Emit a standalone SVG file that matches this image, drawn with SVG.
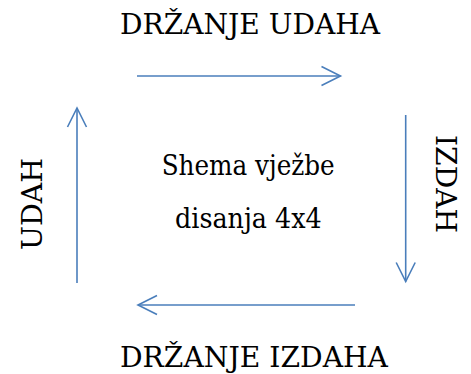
<svg xmlns="http://www.w3.org/2000/svg" width="471" height="374" viewBox="0 0 471 374">
<style>
.t{font-family:"DejaVu Serif",serif;font-size:28px;fill:#000}
.c{stroke:#4a7ebb;stroke-width:1.6;fill:none}
</style>
<defs>
<marker id="ah" markerUnits="userSpaceOnUse" markerWidth="24" markerHeight="24" viewBox="-21 -12 24 24" refX="0" refY="0" orient="auto" overflow="visible">
<path d="M-19,-9.5 L0,0 L-19,9.5" fill="none" stroke="#4a7ebb" stroke-width="1.6"/>
</marker>
</defs>
<g id="top-label"><text class="t" x="120" y="34.3" textLength="260" lengthAdjust="spacingAndGlyphs">DRŽANJE UDAHA</text></g>
<g id="right-label"><text class="t" transform="translate(436,135) rotate(90)" x="0" y="0" textLength="98" lengthAdjust="spacingAndGlyphs">IZDAH</text></g>
<g id="bottom-label"><text class="t" x="120" y="366.7" textLength="268" lengthAdjust="spacingAndGlyphs">DRŽANJE IZDAHA</text></g>
<g id="left-label"><text class="t" transform="translate(41.5,250) rotate(-90)" x="0" y="0" textLength="92" lengthAdjust="spacingAndGlyphs">UDAH</text></g>
<g id="center"><text class="t" x="161.7" y="175" textLength="173" lengthAdjust="spacingAndGlyphs">Shema vježbe</text><text class="t" x="175" y="228" textLength="146.7" lengthAdjust="spacingAndGlyphs">disanja 4x4</text></g>
<g id="connectors">
<line class="c" x1="137" y1="76" x2="340.5" y2="76" marker-end="url(#ah)"/>
<line class="c" x1="405.7" y1="115" x2="405.7" y2="281.5" marker-end="url(#ah)"/>
<line class="c" x1="355" y1="305" x2="138" y2="305" marker-end="url(#ah)"/>
<line class="c" x1="77" y1="283" x2="77" y2="108" marker-end="url(#ah)"/>
</g>
</svg>
